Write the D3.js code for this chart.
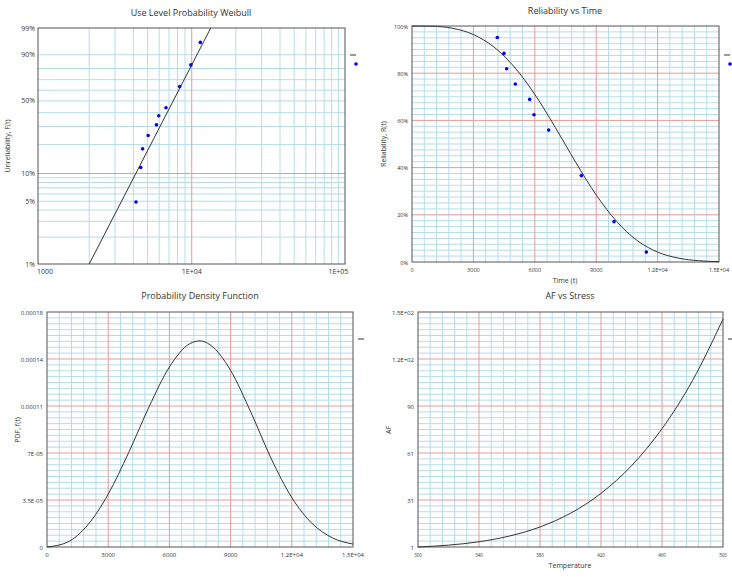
<!DOCTYPE html>
<html><head><meta charset="utf-8">
<script src="https://cdn.jsdelivr.net/npm/d3@7"></script>
<style>
body{margin:0;background:#fff;font-family:"Open Sans",sans-serif;}
text{fill:#333;}
</style></head>
<body><svg width="732" height="577"></svg>
<script>
// failure data (time, unreliability)
const failTimes = [4169, 4495, 4625, 5049, 5749, 5961, 6678, 8274, 9870, 11449];
const failF = [0.049, 0.116, 0.181, 0.246, 0.311, 0.376, 0.441, 0.634, 0.829, 0.958];
// fitted weibull line ends
const lineT = [2000, 13480];
const lineF = [0.01, 0.99];
const curveT = [0, 1000, 2000, 3000, 4000, 5000, 6000, 7000, 7500, 8000, 9000, 10000, 11000, 12000, 13000, 14000, 15000];
const relR = [1, 0.9989, 0.990, 0.9637, 0.9111, 0.8264, 0.7102, 0.5705, 0.4964, 0.4224, 0.2843, 0.1717, 0.0910, 0.0421, 0.0167, 0.0055, 0.0015];
const pdfF = [0, 3.6e-6, 1.66e-5, 3.97e-5, 7.08e-5, 1.052e-4, 1.352e-4, 1.527e-4, 1.548e-4, 1.518e-4, 1.326e-4, 1.010e-4, 6.61e-5, 3.71e-5, 1.76e-5, 6.8e-6, 2.2e-6];
const tempT = [300, 320, 340, 360, 380, 400, 420, 440, 460, 480, 500];
const afV = [1, 2.18, 4.32, 7.96, 13.7, 22.4, 35.0, 52.5, 76.0, 106.5, 145.5];

const svg = d3.select('svg');
const minorC = '#b5dde9', majorC = '#e99a9a', frameC = '#555';

function frame(g, x0, y0, x1, y1){
  g.append('rect').attr('x', x0).attr('y', y0).attr('width', x1 - x0).attr('height', y1 - y0)
    .attr('fill', 'none').attr('stroke', frameC).attr('stroke-width', 1);
}
function vline(g, x, y0, y1, c){ g.append('line').attr('x1', x).attr('x2', x).attr('y1', y0).attr('y2', y1).attr('stroke', c).attr('stroke-width', 1); }
function hline(g, y, x0, x1, c){ g.append('line').attr('y1', y).attr('y2', y).attr('x1', x0).attr('x2', x1).attr('stroke', c).attr('stroke-width', 1); }
function title(x, y, s){ svg.append('text').attr('x', x).attr('y', y).attr('text-anchor', 'middle').attr('font-size', 9).text(s); }
function ylab(x, y, s){ svg.append('text').attr('transform', `translate(${x},${y}) rotate(-90)`).attr('text-anchor', 'middle').attr('font-size', 7).text(s); }
function legend(x, y, dot){
  svg.append('line').attr('x1', x).attr('x2', x + 6).attr('y1', y).attr('y2', y).attr('stroke', '#333');
  if (dot) svg.append('circle').attr('cx', x + 6).attr('cy', y + 9).attr('r', 1.8).attr('fill', '#00f');
}

// linear panel with major red + minor blue grid
function linPanel(o){
  const g = svg.append('g');
  const x = d3.scaleLinear().domain(o.xd).range([o.x0, o.x1]);
  const y = d3.scaleLinear().domain(o.yd).range([o.y1, o.y0]);
  const xs = (o.xd[1] - o.xd[0]) / o.xn, ys = (o.yd[1] - o.yd[0]) / o.yn;
  for (let i = 0; i <= o.xn * o.xsub; i++) if (i % o.xsub) vline(g, x(o.xd[0] + i * xs / o.xsub), o.y0, o.y1, minorC);
  for (let i = 0; i <= o.yn * o.ysub; i++) if (i % o.ysub) hline(g, y(o.yd[0] + i * ys / o.ysub), o.x0, o.x1, minorC);
  for (let i = 1; i < o.xn; i++) vline(g, x(o.xd[0] + i * xs), o.y0, o.y1, majorC);
  for (let i = 1; i < o.yn; i++) hline(g, y(o.yd[0] + i * ys), o.x0, o.x1, majorC);
  frame(g, o.x0, o.y0, o.x1, o.y1);
  o.xl.forEach((s, i) => g.append('text').attr('x', x(o.xd[0] + i * xs)).attr('y', o.y1 + 10)
    .attr('text-anchor', 'middle').attr('font-size', o.fs).text(s));
  o.yl.forEach((s, i) => g.append('text').attr('x', o.x0 - 4).attr('y', y(o.yd[0] + i * ys) + 2.5)
    .attr('text-anchor', 'end').attr('font-size', o.fs).text(s));
  return {g, x, y};
}

// ---- Panel 1: Weibull probability plot
(function(){
  const x0 = 38, x1 = 345, y0 = 28, y1 = 264;
  const w = f => Math.log(-Math.log(1 - f));
  const x = d3.scaleLog().domain([895, 111000]).range([x0, x1]);
  const y = d3.scaleLinear().domain([w(0.01), w(0.99)]).range([y1, y0]);
  const g = svg.append('g');
  const xMinor = [2000,3000,4000,5000,6000,7000,8000,9000,20000,30000,40000,50000,60000,70000,80000,90000,100000];
  const yMinor = [0.02,0.03,0.04,0.05,0.06,0.07,0.08,0.09,0.2,0.3,0.4,0.5,0.6,0.7,0.8,0.9];
  xMinor.forEach(v => vline(g, x(v), y0, y1, minorC));
  yMinor.forEach(v => hline(g, y(w(v)), x0, x1, minorC));
  vline(g, x(10000), y0, y1, majorC);
  hline(g, y(w(0.1)), x0, x1, majorC);
  frame(g, x0, y0, x1, y1);
  [[1000,'1000'],[10000,'1E+04'],[100000,'1E+05']].forEach(([v, s]) =>
    g.append('text').attr('x', x(v)).attr('y', y1 + 10).attr('text-anchor', 'middle').attr('font-size', 7).text(s));
  [[0.01,'1%'],[0.05,'5%'],[0.1,'10%'],[0.5,'50%'],[0.9,'90%'],[0.99,'99%']].forEach(([v, s]) =>
    g.append('text').attr('x', x0 - 3).attr('y', y(w(v)) + 2.5).attr('text-anchor', 'end').attr('font-size', 7).text(s));
  g.append('line').attr('x1', x(lineT[0])).attr('y1', y(w(lineF[0]))).attr('x2', x(lineT[1])).attr('y2', y(w(lineF[1])))
    .attr('stroke', '#333').attr('stroke-width', 1);
  g.selectAll('circle').data(failTimes).join('circle')
    .attr('cx', d => x(d)).attr('cy', (d, i) => y(w(failF[i]))).attr('r', 1.8).attr('fill', '#00f');
  title(191, 16, 'Use Level Probability Weibull');
  ylab(10, 146, 'Unreliability, F(t)');
  legend(350, 55, true);
})();

// ---- Panel 2: Reliability vs Time
(function(){
  const p = linPanel({x0: 412, x1: 719, y0: 26, y1: 262, xd: [0, 15000], yd: [0, 1], xn: 5, yn: 5, xsub: 5, ysub: 8,
    xl: ['0','3000','6000','9000','1.2E+04','1.5E+04'], yl: ['0%','20%','40%','60%','80%','100%'], fs: 5.5});
  p.g.append('path').datum(curveT).attr('fill', 'none').attr('stroke', '#333').attr('stroke-width', 1)
    .attr('d', d3.line().x(d => p.x(d)).y((d, i) => p.y(relR[i])).curve(d3.curveMonotoneX));
  p.g.selectAll('circle').data(failTimes).join('circle')
    .attr('cx', d => p.x(d)).attr('cy', (d, i) => p.y(1 - failF[i])).attr('r', 1.8).attr('fill', '#00f');
  title(565, 14, 'Reliability vs Time');
  ylab(386, 144, 'Reliability, R(t)');
  svg.append('text').attr('x', 565).attr('y', 283).attr('text-anchor', 'middle').attr('font-size', 7).text('Time (t)');
  legend(724, 55, true);
})();

// ---- Panel 3: PDF
(function(){
  const p = linPanel({x0: 47, x1: 353, y0: 312, y1: 547, xd: [0, 15000], yd: [0, 0.0001765], xn: 5, yn: 5, xsub: 5, ysub: 8,
    xl: ['0','3000','6000','9000','1.2E+04','1.5E+04'], yl: ['0','3.5E-05','7E-05','0.00011','0.00014','0.00018'], fs: 6});
  p.g.append('path').datum(curveT).attr('fill', 'none').attr('stroke', '#333').attr('stroke-width', 1)
    .attr('d', d3.line().x(d => p.x(d)).y((d, i) => p.y(pdfF[i])).curve(d3.curveMonotoneX));
  title(200, 299, 'Probability Density Function');
  ylab(20, 430, 'PDF, f(t)');
  legend(358, 339, false);
})();

// ---- Panel 4: AF vs Stress
(function(){
  const p = linPanel({x0: 418, x1: 723, y0: 312, y1: 547, xd: [300, 500], yd: [1, 150], xn: 5, yn: 5, xsub: 5, ysub: 8,
    xl: ['300','340','380','420','460','500'], yl: ['1','31','61','90','1.2E+02','1.5E+02'], fs: 6});
  p.g.selectAll('text').filter(function(){ return +this.getAttribute('y') > 550; }).attr('font-size', 4.5);
  p.g.append('path').datum(tempT).attr('fill', 'none').attr('stroke', '#333').attr('stroke-width', 1)
    .attr('d', d3.line().x(d => p.x(d)).y((d, i) => p.y(afV[i])).curve(d3.curveMonotoneX));
  title(570, 299, 'AF vs Stress');
  ylab(391, 430, 'AF');
  svg.append('text').attr('x', 570, ).attr('y', 568).attr('text-anchor', 'middle').attr('font-size', 7).text('Temperature');
  legend(728, 339, false);
})();
</script></body></html>
